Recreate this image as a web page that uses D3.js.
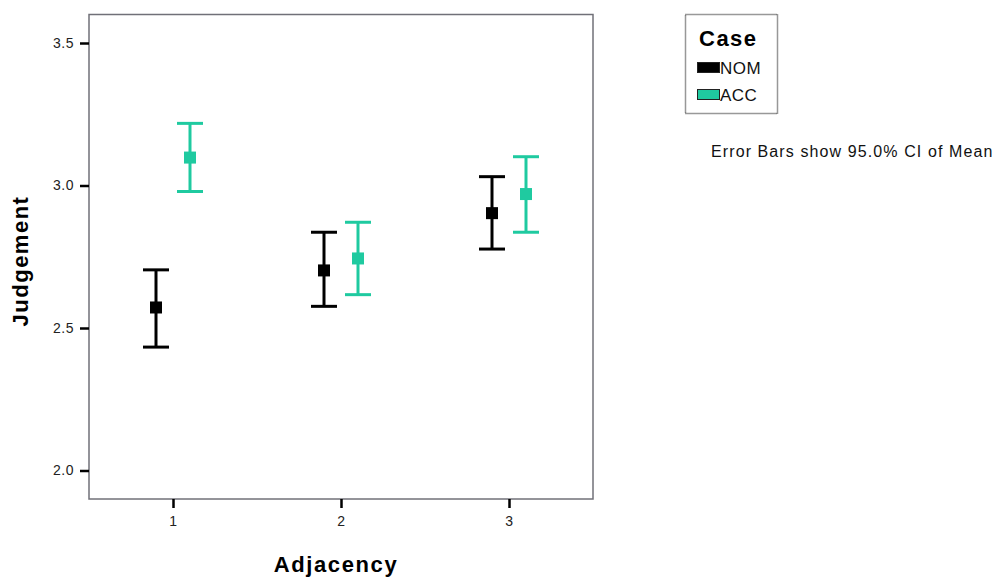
<!DOCTYPE html>
<html>
<head>
<meta charset="utf-8">
<script src="https://cdn.jsdelivr.net/npm/d3@7"></script>
<style>
  body { margin: 0; background: #fff; }
  svg { font-family: "Liberation Sans", Arial, sans-serif; }
</style>
</head>
<body>
<svg class="chart"></svg>
<script>
// values
const adjacency = [1, 2, 3];
const cases = ["NOM", "ACC"];
const caseColors = ["#000000", "#1fcaa0"];
const nomMean = [2.572, 2.702, 2.903];
const nomLow = [2.433, 2.576, 2.777];
const nomHigh = [2.704, 2.836, 3.031];
const accMean = [3.098, 2.744, 2.970];
const accLow = [2.979, 2.617, 2.836];
const accHigh = [3.218, 2.871, 3.101];
const yTicks = [2.0, 2.5, 3.0, 3.5];

const size = { w: 999, h: 579 };
const plot = { l: 89, r: 593, t: 14.5, b: 499 };

const svg = d3.select("svg.chart").attr("width", size.w).attr("height", size.h);

const xScale = d3.scaleLinear().domain([0.5, 3.5]).range([plot.l, plot.r]);
const yScale = d3.scaleLinear().domain([1.9, 3.6]).range([plot.b, plot.t]);

// frame
svg.append("rect")
  .attr("x", plot.l).attr("y", plot.t)
  .attr("width", plot.r - plot.l).attr("height", plot.b - plot.t)
  .attr("fill", "none").attr("stroke", "#707078").attr("stroke-width", 1.5);

// axes
const yAxis = svg.append("g")
  .attr("transform", `translate(${plot.l},0)`)
  .call(d3.axisLeft(yScale).tickValues(yTicks).tickFormat(d3.format(".1f")).tickSize(9).tickPadding(6));
const xAxis = svg.append("g")
  .attr("transform", `translate(0,${plot.b})`)
  .call(d3.axisBottom(xScale).tickValues(adjacency).tickFormat(d3.format("d")).tickSize(9).tickPadding(8));

[xAxis, yAxis].forEach((ax) => {
  ax.select(".domain").remove();
  ax.selectAll(".tick line").attr("stroke", "#000").attr("stroke-width", 2.5);
  ax.selectAll(".tick text").attr("fill", "#222").style("font-size", "14px").style("letter-spacing", "0.5px");
});

svg.append("text")
  .attr("x", (plot.l + plot.r) / 2 - 5).attr("y", 572)
  .attr("text-anchor", "middle")
  .style("font-size", "22px").style("font-weight", "bold").style("letter-spacing", "1.6px")
  .text("Adjacency");

svg.append("text")
  .attr("transform", "translate(28,261) rotate(-90)")
  .attr("text-anchor", "middle")
  .style("font-size", "22px").style("font-weight", "bold").style("letter-spacing", "1.5px")
  .text("Judgement");

// error bars
const series = [
  { name: cases[0], color: caseColors[0], offset: -17, mean: nomMean, low: nomLow, high: nomHigh },
  { name: cases[1], color: caseColors[1], offset: 17, mean: accMean, low: accLow, high: accHigh },
];

const capW = 13;
series.forEach((s) => {
  const g = svg.append("g").attr("stroke", s.color).attr("stroke-width", 3);
  const rows = adjacency.map((a, i) => ({ x: xScale(a) + s.offset, m: s.mean[i], lo: s.low[i], hi: s.high[i] }));
  g.selectAll("line.v").data(rows).join("line").attr("class", "v")
    .attr("x1", (d) => d.x).attr("x2", (d) => d.x)
    .attr("y1", (d) => yScale(d.lo)).attr("y2", (d) => yScale(d.hi));
  g.selectAll("line.top").data(rows).join("line").attr("class", "top")
    .attr("x1", (d) => d.x - capW).attr("x2", (d) => d.x + capW)
    .attr("y1", (d) => yScale(d.hi)).attr("y2", (d) => yScale(d.hi));
  g.selectAll("line.bot").data(rows).join("line").attr("class", "bot")
    .attr("x1", (d) => d.x - capW).attr("x2", (d) => d.x + capW)
    .attr("y1", (d) => yScale(d.lo)).attr("y2", (d) => yScale(d.lo));
  svg.selectAll(null).data(rows).join("rect")
    .attr("x", (d) => d.x - 6).attr("y", (d) => yScale(d.m) - 6)
    .attr("width", 12).attr("height", 12)
    .attr("fill", s.color);
});

// legend
const legend = svg.append("g");
legend.append("rect")
  .attr("x", 685.5).attr("y", 14.5).attr("width", 92).attr("height", 99)
  .attr("fill", "#fff").attr("stroke", "#333").attr("stroke-width", 1.5).attr("stroke-dasharray", "1,1");
legend.append("text")
  .attr("x", 699).attr("y", 46)
  .style("font-size", "22px").style("font-weight", "bold").style("letter-spacing", "1.5px")
  .text("Case");
series.forEach((s, i) => {
  const y = 62 + i * 27;
  legend.append("rect")
    .attr("x", 697.5).attr("y", y + 0.5).attr("width", 22).attr("height", 10)
    .attr("fill", s.color).attr("stroke", "#222").attr("stroke-width", 1);
  legend.append("text")
    .attr("x", 720).attr("y", y + 12)
    .style("font-size", "17px").style("letter-spacing", "0.5px").attr("fill", "#111")
    .text(s.name);
});

svg.append("text")
  .attr("x", 711).attr("y", 157)
  .style("font-size", "16px").style("letter-spacing", "1.1px").attr("fill", "#111")
  .text("Error Bars show 95.0% CI of Mean");
</script>
</body>
</html>
